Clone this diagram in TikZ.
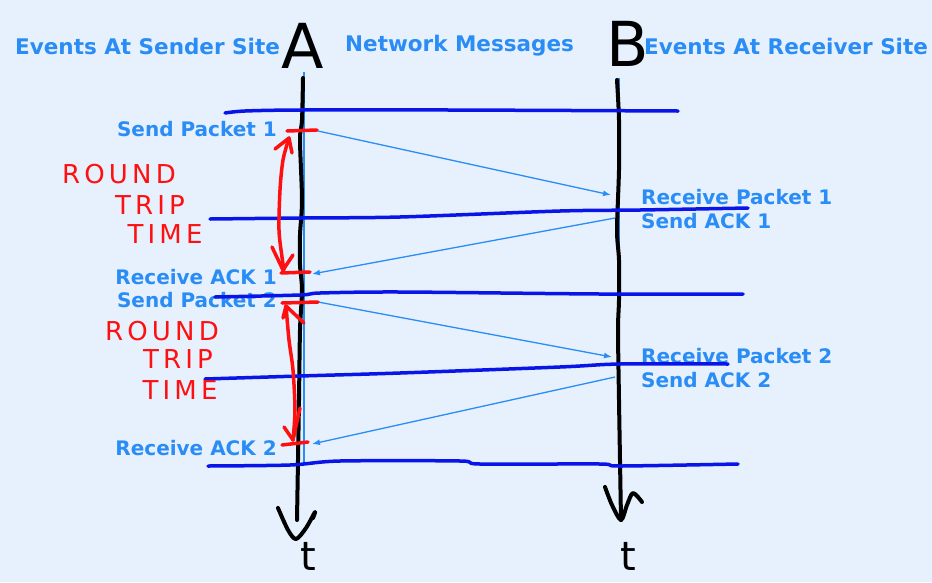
\documentclass[tikz,border=0pt]{standalone}
\usepackage{fontspec}
\setmainfont{Liberation Sans}
\newfontfamily\handfont{DejaVu Sans}
\newfontfamily\lblfont{DejaVu Sans}
\newfontfamily\redfont[LetterSpace=16]{DejaVu Sans}
\usetikzlibrary{arrows.meta}
\definecolor{bg}{HTML}{E6F1FD}
\definecolor{txt}{HTML}{2A8CF5}
\definecolor{pen}{HTML}{0814E8}
\definecolor{redpen}{HTML}{FF1010}
\begin{document}
\begin{tikzpicture}[x=1pt,y=-1pt,
  lbl/.style={text=txt, font=\lblfont\bfseries\fontsize{20}{23}\selectfont, inner sep=0pt},
  ttl/.style={text=txt, font=\lblfont\bfseries\fontsize{21.5}{24}\selectfont, inner sep=0pt},
  msg/.style={draw=txt, line width=1.3pt, -{Latex[length=8pt,width=6pt]}},
  bluepen/.style={draw=pen, line width=3.5pt, line cap=round, line join=round},
  blackpen/.style={draw=black, line width=4pt, line cap=round, line join=round},
  redink/.style={draw=redpen, line width=3.5pt, line cap=round, line join=round},
  hand/.style={text=black, font=\handfont\fontsize{62}{62}\selectfont, inner sep=0pt},
  redtext/.style={text=redpen, font=\redfont\fontsize{26}{26}\selectfont, inner sep=0pt}]
\fill[bg] (0,0) rectangle (932,582);
\useasboundingbox (0,0) rectangle (932,582);

% column headings
\node[ttl, anchor=west] (hs) at (15,46) {Events At Sender Site};
\node[ttl, anchor=west] (hn) at (345,46) {Network Messages};
\node[ttl, anchor=west] (hr) at (644,46) {Events At Receiver Site};

% thin original timelines
\draw[txt, line width=1.3pt] (304,72) -- (304,465);
\draw[txt, line width=1.3pt] (619,78) -- (619,465);

% event labels
\node[lbl, anchor=east] (sp1) at (277,129) {Send Packet 1};
\node[lbl, anchor=east] (ra1) at (277,277) {Receive ACK 1};
\node[lbl, anchor=east] (sp2) at (277,300) {Send Packet 2};
\node[lbl, anchor=east] (ra2) at (277,448) {Receive ACK 2};
\node[lbl, anchor=west] (rp1) at (641,197) {Receive Packet 1};
\node[lbl, anchor=west] (sa1) at (641,221) {Send ACK 1};
\node[lbl, anchor=west] (rp2) at (641,356) {Receive Packet 2};
\node[lbl, anchor=west] (sa2) at (641,380) {Send ACK 2};

% message endpoints on the timelines
\coordinate (a1) at (318,131);
\coordinate (b1) at (611,195);
\coordinate (b2) at (615,218);
\coordinate (a2) at (312,274);
\coordinate (a3) at (318,302);
\coordinate (b3) at (612,357);
\coordinate (b4) at (615,377);
\coordinate (a4) at (312,444);
\draw[msg] (a1) -- (b1);
\draw[msg] (b2) -- (a2);
\draw[msg] (a3) -- (b3);
\draw[msg] (b4) -- (a4);

% hand-drawn black timelines
\draw[blackpen] plot[smooth] coordinates {(303,78) (302,120) (300,140) (302,200) (300,235) (300,265) (302,290) (300,330) (299,400) (298,460) (297,520)};
\draw[blackpen] plot[smooth] coordinates {(278,508) (288,530) (296,539) (306,528) (315,512) (313,518)};
\draw[blackpen] plot[smooth] coordinates {(617,80) (619,120) (619,170) (617,230) (619,260) (619,300) (618,330) (619,400) (620,460) (621,520)};
\draw[blackpen] plot[smooth] coordinates {(605,487) (612,505) (621,520) (627,505) (633,493) (642,502)};

% handwritten letters
\node[hand] (lA) at (303,46) {A};
\node[hand] (lB) at (628,44) {B};
\node[hand, font=\handfont\fontsize{40}{40}\selectfont] (tA) at (308,556) {t};
\node[hand, font=\handfont\fontsize{40}{40}\selectfont] (tB) at (628,556) {t};

% hand-drawn blue separators
\draw[bluepen] plot[smooth] coordinates {(225,113) (245,111) (300,110) (450,110) (678,111)};
\draw[bluepen] plot[smooth] coordinates {(210,219) (300,218) (400,217) (560,211) (640,210) (748,208)};
\draw[bluepen] plot[smooth] coordinates {(215,297) (300,295) (320,293) (400,292) (600,294) (743,294)};
\draw[bluepen] plot[smooth] coordinates {(205,379) (300,376) (400,373) (560,367) (620,364) (728,364)};
\draw[bluepen] plot[smooth] coordinates {(208,466) (290,465) (340,461) (460,461) (480,464) (600,464) (620,466) (738,464)};

% red round-trip annotations
\draw[redink] (287,131) -- (317,130);
\draw[redink] (281,273) -- (310,272);
\draw[redink] (282,303) -- (318,302);
\draw[redink] (282,445) -- (308,442);
\draw[redink] plot[smooth] coordinates {(289,138) (283,160) (280,190) (279,230) (282,257) (284,270)};
\draw[redink] (275,149) -- (289,138) -- (292,153);
\draw[redink] (272,247) -- (283,270) -- (293,255);
\draw[redink] plot[smooth] coordinates {(286,306) (289,340) (293,370) (295,410) (293,440)};
\draw[redink] (283,318) -- (286,306) -- (304,323);
\draw[redink] (284,427) -- (293,440) -- (300,408);
\node[redtext] (rt1a) at (119,174) {ROUND};
\node[redtext] (rt1b) at (150,205) {TRIP};
\node[redtext] (rt1c) at (165,234) {TIME};
\node[redtext] (rt2a) at (162,331) {ROUND};
\node[redtext] (rt2b) at (178,359) {TRIP};
\node[redtext] (rt2c) at (180,390) {TIME};
\end{tikzpicture}
\end{document}
